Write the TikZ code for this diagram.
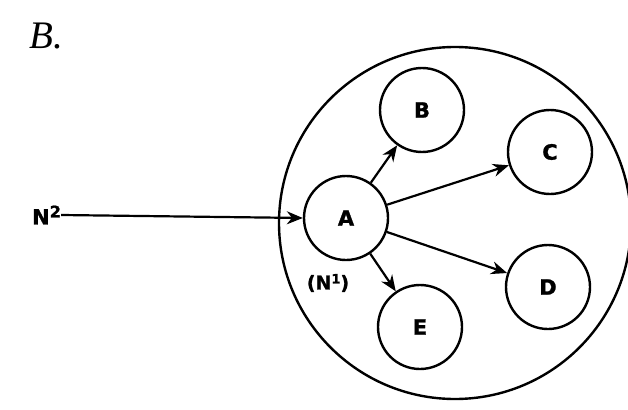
\documentclass[tikz,border=0pt]{standalone}
\usepackage{fontspec}
\setmainfont{DejaVu Sans}
\newfontfamily\heavy[FakeBold=1.2]{DejaVu Sans Bold}
\newfontfamily\serifit{Liberation Serif Italic}
\usetikzlibrary{arrows.meta}
\begin{document}
\begin{tikzpicture}[x=1pt,y=-1pt,
  every node/.style={font=\fontsize{21}{24}\selectfont\heavy},
  small/.style={circle,draw,line width=2.4pt,minimum size=84pt,inner sep=0pt},
  link/.style={line width=2.2pt,-{Stealth[length=16pt,width=13pt]}}]
\useasboundingbox (0,0) rectangle (628,409);
\fill[white] (0,0) rectangle (628,409);
\node[font=\fontsize{39}{42}\selectfont\serifit,inner sep=0pt] (title) at (46,36) {B.};
\draw[line width=2.4pt] (455,223) circle (176);
\node[small] (A) at (346,218) {A};
\node[small] (B) at (422,110) {B};
\node[small] (C) at (550,152) {C};
\node[small] (D) at (548,287) {D};
\node[small] (E) at (420,327) {E};
\node[anchor=west,inner sep=0pt] (N2) at (32,215) {N\raisebox{7pt}{\fontsize{16}{16}\selectfont 2}};
\node[font=\fontsize{19}{20}\selectfont\heavy] (N1) at (328,283) {(N\raisebox{6pt}{\fontsize{13}{13}\selectfont 1})};
\draw[link] (N2.east) ++(0,0) -- (A.west);
\draw[link] (A) -- (B);
\draw[link] (A) -- (C);
\draw[link] (A) -- (D);
\draw[link] (A) -- (E);
\end{tikzpicture}
\end{document}
